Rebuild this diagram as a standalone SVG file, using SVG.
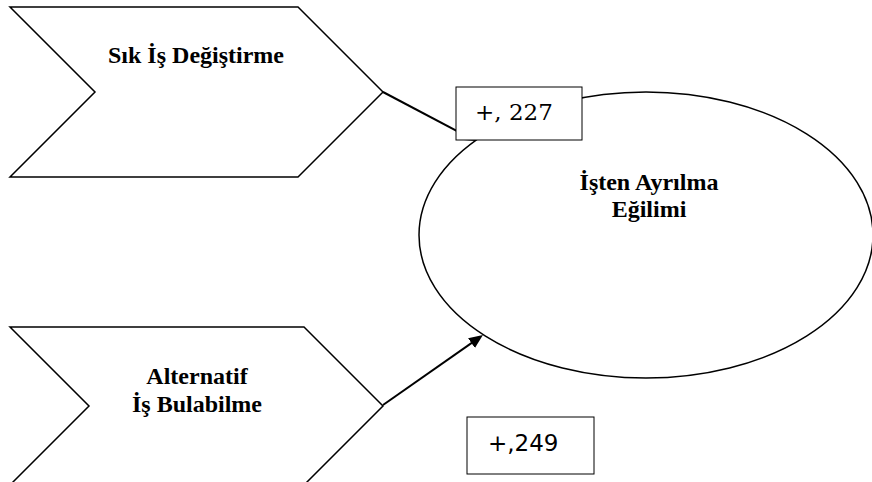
<svg xmlns="http://www.w3.org/2000/svg" width="872" height="482" viewBox="0 0 872 482">
  <style>
    .shape { fill: #ffffff; stroke: #000000; stroke-width: 1.5; }
    .box { fill: #ffffff; stroke: #000000; stroke-width: 1; }
    .label { font-family: "Liberation Serif", "Times New Roman", serif; font-weight: bold; font-size: 24px; fill: #000000; text-anchor: middle; }
    .num1 { font-family: "DejaVu Serif", serif; font-size: 23px; fill: #000000; }
    .num2 { font-family: "DejaVu Sans", sans-serif; font-size: 23px; fill: #000000; }
    .conn { stroke: #000000; stroke-width: 2; fill: none; }
  </style>
  <defs>
    <marker id="arrow" markerUnits="userSpaceOnUse" markerWidth="16" markerHeight="14" refX="6" refY="6" orient="auto">
      <path d="M0,0 L14,6 L0,12 z" fill="#000000"/>
    </marker>
  </defs>
  <rect x="0" y="0" width="872" height="482" fill="#ffffff"/>

  <g id="node-sik-is-degistirme">
    <polygon class="shape" points="10,7 298,7 383,92 298,177 10,177 95,92"/>
    <text class="label" x="196" y="63">Sık İş Değiştirme</text>
  </g>

  <g id="node-alternatif-is-bulabilme">
    <polygon class="shape" points="10,327 304,327 383,406 304,485 10,485 89,406"/>
    <text class="label" x="197" y="384">Alternatif</text>
    <text class="label" x="197" y="412">İş Bulabilme</text>
  </g>

  <g id="node-isten-ayrilma-egilimi">
    <ellipse class="shape" cx="646" cy="235" rx="227" ry="143"/>
    <text class="label" x="649" y="190">İşten Ayrılma</text>
    <text class="label" x="649" y="217">Eğilimi</text>
  </g>

  <g id="connectors">
    <line class="conn" x1="383" y1="92" x2="469" y2="137.3" marker-end="url(#arrow)"/>
    <line class="conn" x1="383" y1="405" x2="476.4" y2="339.6" marker-end="url(#arrow)"/>
  </g>

  <g id="label-227">
    <rect class="box" x="456" y="87" width="126" height="53"/>
    <text class="num1" x="475" y="120">+, 227</text>
  </g>

  <g id="label-249">
    <rect class="box" x="467" y="417" width="127" height="57"/>
    <text class="num2" x="488" y="451">+,249</text>
  </g>
</svg>
